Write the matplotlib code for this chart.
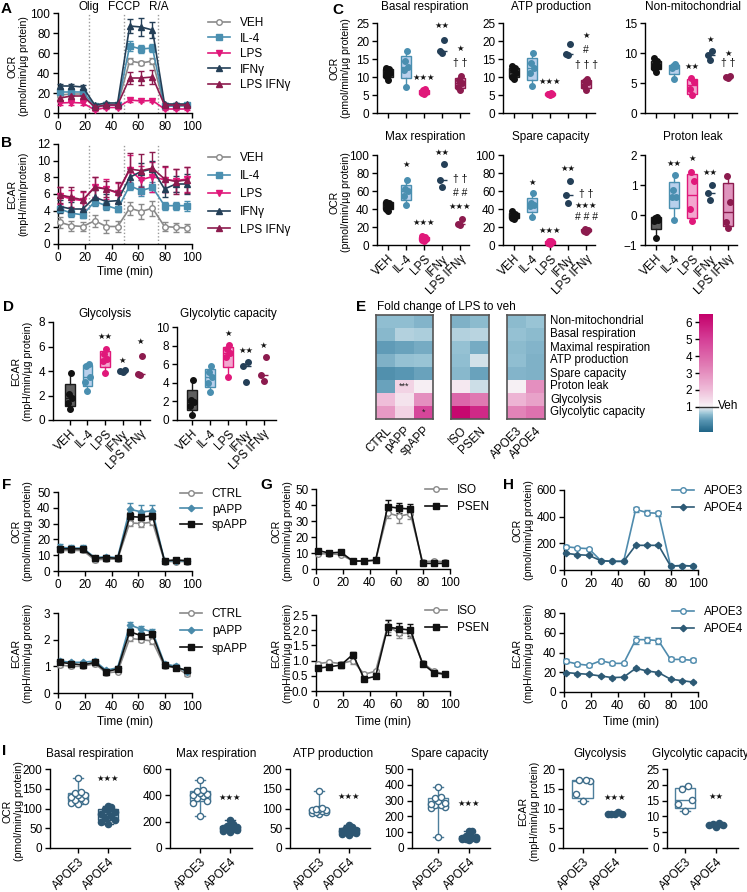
"""Seahorse metabolic profiling figure (panels A-I)."""

import matplotlib
matplotlib.use("Agg")
import matplotlib.pyplot as plt  # noqa: E402
import numpy as np  # noqa: E402
from matplotlib.colors import LinearSegmentedColormap, Normalize  # noqa: E402
from matplotlib.lines import Line2D  # noqa: E402

plt.rcParams["font.family"] = ["Liberation Sans", "DejaVu Sans"]
plt.rcParams["font.size"] = 8.5
plt.rcParams["axes.linewidth"] = 1.0

W, H = 747, 892

# ---------------------------------------------------------------- data
TIME = [1.5, 10, 18.5, 27.5, 36, 44.5, 53.5, 62, 70.5, 79.5, 88, 96.5]
INJECTIONS = [23, 49, 75]
INJECTION_LABELS = ["Olig", "FCCP", "R/A"]

TREATMENTS = ["VEH", "IL-4", "LPS", "IFNγ", "LPS IFNγ"]

# A: OCR time course (VEH, IL-4, LPS, IFNγ, LPS IFNγ)
A_OCR = [
    [18, 19, 19, 5, 8, 8, 52, 50, 52, 7, 7, 7],
    [21, 21, 21, 7, 8, 8, 67, 64, 65, 7, 7, 8],
    [10, 10.5, 10, 3, 5.5, 5.5, 13, 12, 12.5, 4, 4, 4],
    [27, 27, 26, 8, 10, 10, 87, 86, 83, 9, 9, 9],
    [15, 17, 17, 6, 8, 8, 35, 35, 36, 8, 8, 8],
]
A_ERR = [
    [2, 2, 2, 1, 1, 1, 3, 2, 3, 1, 1, 1],
    [2, 2, 2, 1, 1, 1, 5, 4, 4, 1, 1, 1],
    [2, 2, 2, 1, 1, 1, 1.5, 1, 1, 1, 1, 1],
    [2, 2, 2, 1.5, 1.5, 1.5, 7, 9, 8, 1.5, 1.5, 1.5],
    [3, 3, 3, 2, 2, 2, 6, 7, 7, 2, 2, 2],
]
# B: ECAR time course
B_ECAR = [
    [2.6, 2.2, 2.1, 2.8, 2.1, 2.1, 4.3, 3.9, 4.3, 2.1, 2.0, 1.9],
    [4.2, 3.7, 3.5, 5.1, 4.6, 4.2, 7.0, 6.4, 6.8, 4.6, 4.6, 4.6],
    [5.8, 5.4, 5.2, 6.9, 6.6, 6.1, 8.9, 7.7, 8.1, 7.7, 7.6, 7.8],
    [4.5, 4.2, 4.2, 5.6, 5.1, 5.2, 8.0, 8.7, 9.0, 6.6, 7.2, 7.2],
    [5.9, 5.6, 5.3, 6.8, 6.6, 6.2, 9.0, 8.8, 9.1, 7.8, 7.5, 7.7],
]
B_ERR = [
    [0.7, 0.6, 0.5, 0.7, 0.8, 0.7, 0.8, 0.9, 0.9, 0.5, 0.5, 0.5],
    [0.4, 0.4, 0.4, 0.5, 0.5, 0.4, 0.5, 0.6, 0.6, 0.5, 0.5, 0.6],
    [1.0, 1.1, 1.0, 1.2, 1.2, 1.2, 1.8, 1.7, 1.8, 1.5, 1.4, 1.5],
    [0.8, 0.8, 0.8, 0.9, 0.9, 0.9, 1.0, 1.0, 1.0, 1.0, 1.0, 1.2],
    [1.0, 1.2, 1.1, 1.3, 1.0, 1.3, 1.9, 2.0, 2.0, 1.6, 1.5, 1.6],
]

# C: per-well OCR parameters
C_BASAL = [[9.3, 10.2, 11.0, 11.5, 12.1, 12.5], [7.2, 12.0, 12.8, 14.4, 17.1],
           [5.2, 5.6, 5.9, 6.3, 6.6], [16.8, 17.1, 20.4], [6.5, 7.2, 8.3, 9.3, 10.4]]
C_ATP = [[9.5, 10.0, 11.0, 12.0, 12.5, 13.0], [7.4, 11.0, 12.5, 14.0, 16.6],
         [5.0, 5.2, 5.3, 5.4, 5.5], [16.0, 16.3, 19.2], [6.5, 7.5, 8.5, 9.0, 9.5]]
C_NONMITO = [[6.8, 7.5, 7.9, 8.2, 8.6, 9.1], [5.6, 7.5, 7.8, 7.9, 8.2],
             [3.0, 4.0, 5.2, 5.8], [8.8, 9.6, 10.4], [5.9, 6.0, 6.1]]
C_MAX = [[38, 40, 43, 45, 47, 48], [44, 55, 60, 62, 72],
         [4, 6, 7, 8, 9, 10], [64, 72, 90], [22, 23, 29]]
C_SPARE = [[29, 30, 32, 33, 35, 38], [31, 43, 45, 47, 58],
           [1, 2, 3, 4, 5], [47, 56, 71], [15, 16, 17, 18]]
C_PROTON = [[-0.75, -0.2, -0.15, -0.1, -0.05], [-0.15, 0.6, 0.6, 0.85, 1.35],
            [-0.2, 0.2, 1.15, 1.42], [0.5, 0.72, 1.0], [-0.42, -0.22, 0.42, 1.3]]

# D: per-well ECAR parameters
D_GLYCO = [[0.9, 1.4, 1.8, 2.1, 3.8], [2.4, 3.1, 3.5, 4.4, 4.6],
           [3.8, 4.8, 5.0, 5.4, 5.8], [3.95, 4.0, 4.1], [3.65, 3.75, 5.2]]
D_GLYCAP = [[0.55, 1.5, 1.9, 2.2, 4.3], [3.05, 4.0, 4.6, 5.2, 5.8],
            [4.6, 6.8, 7.2, 7.6, 8.1], [4.1, 5.8, 6.2], [4.2, 4.8, 6.8]]

# significance marks: (group index, y, text)
STAR = "★"
C_BASAL_SIG = [(2, 10.0, STAR * 3), (3, 24.3, STAR * 2), (4, 17.8, STAR), (4, 14.0, "† †")]
C_ATP_SIG = [(2, 8.8, STAR * 3), (4, 21.5, STAR), (4, 17.4, "#"), (4, 13.4, "† † †")]
C_NONMITO_SIG = [(2, 7.7, STAR * 2), (3, 12.3, STAR), (4, 10.0, STAR), (4, 8.3, "† †")]
C_MAX_SIG = [(1, 90, STAR), (2, 25, STAR * 3), (3, 103, STAR * 2),
             (4, 73, "† †"), (4, 58, "# #"), (4, 42.6, STAR * 3)]
C_SPARE_SIG = [(1, 70, STAR), (2, 16, STAR * 3), (3, 85, STAR * 2),
               (4, 57, "† †"), (4, 44, STAR * 3), (4, 31, "# # #")]
C_PROTON_SIG = [(1, 1.72, STAR * 2), (2, 1.9, STAR), (3, 1.42, STAR * 2)]
D_GLYCO_SIG = [(2, 6.8, STAR * 2), (3, 4.9, STAR), (4, 6.4, STAR)]
D_GLYCAP_SIG = [(2, 9.3, STAR), (3, 7.5, STAR * 2), (4, 8.0, STAR)]

# E: fold change LPS / veh
E_ROWS = ["Non-mitochondrial", "Basal respiration", "Maximal respiration", "ATP production",
          "Spare capacity", "Proton leak", "Glycolysis", "Glycolytic capacity"]
E_COLS = ["CTRL", "pAPP", "spAPP", "ISO", "PSEN", "APOE3", "APOE4"]
E_FOLD = [
    [0.55, 0.55, 0.48, 0.45, 0.52, 0.52, 0.62],
    [0.50, 0.72, 0.70, 0.72, 0.74, 0.58, 0.52],
    [0.25, 0.30, 0.38, 0.58, 0.40, 0.52, 0.48],
    [0.45, 0.58, 0.62, 0.56, 0.85, 0.55, 0.43],
    [0.12, 0.20, 0.30, 0.50, 0.32, 0.48, 0.45],
    [0.30, 1.60, 1.10, 1.20, 0.82, 1.05, 3.00],
    [2.00, 1.30, 3.00, 4.00, 3.50, 2.20, 2.60],
    [2.80, 1.60, 4.80, 6.30, 5.50, 3.30, 3.70],
]
E_SIG = [(5, 1, "***"), (7, 2, "*")]

# F: APP lines
F_NAMES = ["CTRL", "pAPP", "spAPP"]
F_OCR = [
    [13, 13, 13, 7, 7.5, 7.5, 30.5, 30, 31, 6, 6, 6],
    [15, 14.5, 14.5, 8.5, 9, 8.5, 39, 37.5, 38, 6.5, 6.5, 6.5],
    [14, 14, 14, 8, 8.5, 8, 34.5, 34, 35, 6.5, 7, 6.5],
]
F_OCR_ERR = [
    [1, 1, 1, 1, 1, 1, 2, 2, 2, 1, 1, 1],
    [2, 2, 2, 1, 1, 1, 4, 4, 4, 1, 1, 1],
    [1.5, 1.5, 1.5, 1, 1, 1, 3, 3, 3, 1, 1, 1],
]
F_ECAR = [
    [1.05, 1.0, 1.0, 1.1, 0.75, 0.8, 2.05, 2.0, 1.95, 1.0, 0.95, 0.7],
    [1.2, 1.15, 1.15, 1.2, 0.85, 0.95, 2.55, 2.4, 2.3, 1.1, 1.0, 0.8],
    [1.15, 1.1, 1.05, 1.15, 0.8, 0.9, 2.3, 2.15, 2.2, 1.05, 0.95, 0.85],
]
F_ECAR_ERR = [
    [0.06, 0.06, 0.06, 0.08, 0.06, 0.06, 0.1, 0.1, 0.1, 0.06, 0.08, 0.06],
    [0.06, 0.06, 0.06, 0.08, 0.06, 0.06, 0.1, 0.1, 0.1, 0.06, 0.08, 0.06],
    [0.06, 0.06, 0.06, 0.08, 0.06, 0.06, 0.1, 0.1, 0.1, 0.06, 0.08, 0.06],
]

# G: PSEN lines
G_NAMES = ["ISO", "PSEN"]
G_OCR = [
    [9.5, 9.5, 9, 5, 5, 5.5, 35, 33, 34.5, 4.5, 5, 4.5],
    [11.5, 10, 10.5, 5, 5, 5.5, 39, 38, 37.5, 3.5, 3.5, 3.5],
]
G_OCR_ERR = [
    [1, 1, 1, 0.5, 0.5, 0.5, 3, 4, 3, 0.5, 0.5, 0.5],
    [1, 1, 1, 0.5, 0.5, 0.5, 4, 3, 3, 0.5, 0.5, 0.5],
]
G_ECAR = [
    [0.9, 0.95, 0.9, 1.0, 0.55, 0.65, 2.15, 1.9, 1.9, 0.93, 0.65, 0.55],
    [0.75, 0.8, 0.85, 1.2, 0.4, 0.48, 2.1, 2.05, 2.0, 0.9, 0.6, 0.55],
]
G_ECAR_ERR = [
    [0.05, 0.05, 0.05, 0.1, 0.05, 0.05, 0.2, 0.15, 0.15, 0.05, 0.05, 0.05],
    [0.06, 0.05, 0.08, 0.08, 0.05, 0.05, 0.25, 0.2, 0.2, 0.05, 0.05, 0.05],
]

# H: APOE lines
H_NAMES = ["APOE3", "APOE4"]
H_OCR = [
    [175, 165, 160, 70, 65, 65, 455, 430, 425, 30, 33, 30],
    [125, 115, 110, 70, 65, 65, 185, 185, 185, 30, 33, 30],
]
H_OCR_ERR = [
    [10, 8, 8, 5, 5, 5, 20, 18, 18, 4, 4, 4],
    [8, 8, 8, 5, 5, 5, 8, 8, 8, 4, 4, 4],
]
H_ECAR = [
    [31, 28.3, 27, 31.7, 29, 29, 53, 53, 52, 33, 33, 32],
    [19.7, 18.7, 17.9, 16.2, 14.6, 15.0, 24.0, 21.3, 19.7, 13.0, 11.5, 10.0],
]
H_ECAR_ERR = [
    [2, 1.5, 1.5, 2, 1.5, 1.5, 4, 3, 3, 2, 2, 2],
    [1, 1, 1, 1, 1, 1, 1.5, 1, 1, 1, 1, 1],
]

# I: APOE per-well parameters
I_TITLES = ["Basal respiration", "Max respiration", "ATP production",
            "Spare capacity", "Glycolysis", "Glycolytic capacity"]
I_BASAL = [[112, 115, 118, 122, 126, 130, 133, 135, 138, 143, 177],
           [60, 65, 70, 75, 80, 85, 90, 95, 100, 103, 106]]
I_MAX = [[245, 340, 360, 380, 395, 405, 410, 420, 430, 440, 520],
         [120, 130, 140, 145, 150, 155, 160, 165, 170, 180, 215]]
I_ATP = [[85, 88, 90, 92, 94, 95, 97, 98, 100, 102, 145],
         [32, 35, 38, 40, 42, 44, 46, 48, 50, 53, 57]]
I_SPARE = [[67, 255, 262, 270, 275, 280, 285, 295, 315, 322, 385],
           [50, 55, 58, 60, 62, 65, 68, 70, 75, 105, 110]]
I_GLYCO = [[11.9, 13.6, 17.0, 17.1, 17.2], [8.5, 8.6, 8.6, 8.7, 9.0]]
I_GLYCAP = [[11.7, 13.8, 15.2, 18.7, 19.5], [6.6, 7.2, 7.4, 7.6, 7.8]]
I_SIG = [(1, 175, STAR * 3), (1, 380, STAR * 3), (1, 131, STAR * 3),
         (1, 283, STAR * 3), (1, 12.9, STAR * 3), (1, 16.4, STAR * 2)]

# ---------------------------------------------------------------- styles
GREY = "#8a8a8a"
TC_STYLE = [
    dict(color=GREY, marker="o", mfc="white", ms=4),
    dict(color="#4a8fb0", marker="s", mfc="#4a8fb0", ms=4),
    dict(color="#e0187a", marker="v", mfc="#e0187a", ms=4),
    dict(color="#243f57", marker="^", mfc="#243f57", ms=4),
    dict(color="#8c1b4e", marker="^", mfc="#8c1b4e", ms=4),
]
F_STYLE = [
    dict(color=GREY, marker="o", mfc="white", ms=4),
    dict(color="#4a8bab", marker="D", mfc="#4a8bab", ms=3.3),
    dict(color="#111111", marker="s", mfc="#111111", ms=3.8),
]
G_STYLE = [
    dict(color=GREY, marker="o", mfc="white", ms=4),
    dict(color="#111111", marker="s", mfc="#111111", ms=3.8),
]
H_STYLE = [
    dict(color="#4f8bad", marker="o", mfc="white", ms=4),
    dict(color="#2d5a75", marker="D", mfc="#2d5a75", ms=3.3),
]
BOX_STYLE = [
    dict(face="#5e5e5e", edge="#1a1a1a", dot="#111111", dot_edge="#111111"),
    dict(face="#b9d0ec", edge="#4a8fb0", dot="#4a8fb0", dot_edge="#4a8fb0"),
    dict(face="#f3a6cf", edge="#e0187a", dot="#e0187a", dot_edge="#e0187a"),
    dict(face="none", edge="#243f57", dot="#243f57", dot_edge="#243f57"),
    dict(face="#df94bd", edge="#8c1b4e", dot="#8c1b4e", dot_edge="#8c1b4e"),
]
APOE_BOX = [
    dict(face="white", edge="#4d7f9c", dot="white", dot_edge="#3e6d8a"),
    dict(face="#a9c6d8", edge="#2d5672", dot="#2d5672", dot_edge="#2d5672"),
]
JITTER = [0.0, -1.0, 1.0, -0.5, 0.5, -1.0, 1.0, 0.0, -0.5, 0.5, 0.0]

fig = plt.figure(figsize=(W / 100, H / 100), dpi=100)


def px_axes(x0, y0, x1, y1):
    return fig.add_axes([x0 / W, 1 - y1 / H, (x1 - x0) / W, (y1 - y0) / H])


def ftext(x, y, s, **kw):
    fig.text(x / W, 1 - y / H, s, **kw)


def clean(ax):
    ax.spines["top"].set_visible(False)
    ax.spines["right"].set_visible(False)
    ax.tick_params(length=3.5, width=1.0, pad=2, labelsize=8.5)


def ylabel(x, y, s):
    ftext(x, y, s, rotation=90, ha="center", va="center", multialignment="center",
          fontsize=7.6, linespacing=1.15)


def letter(x, y, s):
    ftext(x, y, s, fontsize=11, fontweight="bold", ha="left", va="top")


def time_panel(ax, series, errs, styles, ylim, yticks, lines=False):
    for y, e, st in zip(series, errs, styles):
        ax.errorbar(TIME, y, yerr=e, color=st["color"], marker=st["marker"], mfc=st["mfc"],
                    mec=st["color"], ms=st["ms"], lw=1.2, elinewidth=1, capsize=2, capthick=1,
                    clip_on=False, zorder=3)
    if lines:
        for t in INJECTIONS:
            ax.axvline(t, color="#9a9a9a", lw=1.0, ls=(0, (1, 1.5)), zorder=1)
    ax.set_xlim(0, 100)
    ax.set_xticks([0, 20, 40, 60, 80, 100])
    ax.set_ylim(*ylim)
    ax.set_yticks(yticks)
    clean(ax)


def legend(ax, names, styles, x, y, spacing):
    handles = [Line2D([], [], color=st["color"], marker=st["marker"], mfc=st["mfc"],
                      mec=st["color"], ms=st["ms"], lw=1.2) for st in styles]
    ax.legend(handles, names, loc="upper left", bbox_to_anchor=(x / W, 1 - y / H),
              bbox_transform=fig.transFigure, frameon=False, fontsize=8.5,
              handlelength=1.9, handletextpad=0.8, labelspacing=spacing, borderpad=0,
              borderaxespad=0)


def box_stats(vals):
    # Prism-style quartiles ((n+1)p positions)
    q1, med, q3 = np.percentile(vals, [25, 50, 75], method="weibull")
    return dict(med=med, q1=q1, q3=q3, whislo=vals.min(), whishi=vals.max(), fliers=[])


def box_panel(ax, data, styles, xlim, ylim, yticks, sig, labels, width=0.55,
              jit=0.13, dot_s=16, caps=False):
    for i, (vals, st) in enumerate(zip(data, styles)):
        vals = np.sort(np.asarray(vals, float))
        n = len(vals)
        ax.bxp([box_stats(vals)], positions=[i], widths=width, patch_artist=True,
               showfliers=False, showbox=n > 3, showcaps=caps, manage_ticks=False,
               boxprops=dict(facecolor=st["face"], edgecolor=st["edge"], linewidth=1),
               medianprops=dict(color=st["edge"], linewidth=1),
               whiskerprops=dict(color=st["edge"], linewidth=1),
               capprops=dict(color=st["edge"], linewidth=1), zorder=2)
        offs = np.array(JITTER[:n]) * jit
        ax.scatter(i + offs, vals, s=dot_s, color=st["dot"], edgecolors=st["dot_edge"],
                   linewidths=1, zorder=3, clip_on=False)
    for gi, y, s in sig:
        fam = ["DejaVu Sans"] if STAR in s else ["Liberation Sans", "DejaVu Sans"]
        fs = 6 if STAR in s else 7.5
        ax.text(gi, y, s, ha="center", va="center", fontsize=fs, family=fam, color="#111111")
    ax.set_xlim(*xlim)
    ax.set_ylim(*ylim)
    ax.set_yticks(yticks)
    ax.set_xticks(range(len(labels)))
    ax.set_xticklabels(labels, rotation=45, ha="right", rotation_mode="anchor")
    clean(ax)


# ---------------------------------------------------------------- A / B
ax = px_axes(58, 13, 192, 113)
time_panel(ax, A_OCR, A_ERR, TC_STYLE, (0, 100), range(0, 101, 20), lines=True)
for t, s in zip(INJECTIONS, INJECTION_LABELS):
    ax.text(t, 1.0, s, transform=ax.get_xaxis_transform(), ha="center", va="bottom",
            fontsize=8.5)
legend(ax, TREATMENTS, TC_STYLE, 208, 17, 0.3)
letter(1, 2, "A")
ylabel(18, 66, "OCR\n(pmol/min/µg protein)")

ax = px_axes(58, 144, 192, 244)
time_panel(ax, B_ECAR, B_ERR, TC_STYLE, (0, 12), range(0, 13, 2), lines=True)
legend(ax, TREATMENTS, TC_STYLE, 208, 152, 0.5)
letter(1, 136, "B")
ylabel(18, 194, "ECAR\n(mpH/min/protein)")
ftext(125, 272, "Time (min)", ha="center", va="center")

# ---------------------------------------------------------------- C
C_XLIM = (-0.62, 4.5)
NO_LABELS = [""] * 5
c_top = [(377, C_BASAL, (0, 25), range(0, 26, 5), C_BASAL_SIG, "Basal respiration"),
         (503, C_ATP, (0, 25), range(0, 26, 5), C_ATP_SIG, "ATP production"),
         (645, C_NONMITO, (0, 15), range(0, 16, 5), C_NONMITO_SIG, "Non-mitochondrial")]
for x0, data, ylim, yt, sig, title in c_top:
    ax = px_axes(x0, 23, x0 + 92, 113)
    box_panel(ax, data, BOX_STYLE, C_XLIM, ylim, yt, sig, NO_LABELS)
    ftext(x0 + 48, 7, title, ha="center", va="center")
c_bot = [(377, C_MAX, (0, 100), range(0, 101, 20), C_MAX_SIG, "Max respiration"),
         (503, C_SPARE, (0, 100), range(0, 101, 20), C_SPARE_SIG, "Spare capacity"),
         (645, C_PROTON, (-1, 2), range(-1, 3), C_PROTON_SIG, "Proton leak")]
for x0, data, ylim, yt, sig, title in c_bot:
    ax = px_axes(x0, 155, x0 + 92, 245)
    box_panel(ax, data, BOX_STYLE, C_XLIM, ylim, yt, sig, TREATMENTS)
    ftext(x0 + 48, 137, title, ha="center", va="center")
letter(332, 3, "C")
ylabel(340, 68, "OCR\n(pmol/min/µg protein)")
ylabel(340, 202, "OCR\n(pmol/min/µg protein)")

# ---------------------------------------------------------------- D
ax = px_axes(53, 322, 150, 420)
box_panel(ax, D_GLYCO, BOX_STYLE, (-0.97, 4.57), (0, 8), range(0, 9, 2), D_GLYCO_SIG, TREATMENTS)
ftext(105, 314, "Glycolysis", ha="center", va="center")
ax = px_axes(177, 327, 276, 420)
box_panel(ax, D_GLYCAP, BOX_STYLE, (-0.85, 4.7), (0, 10), range(0, 11, 2), D_GLYCAP_SIG,
          TREATMENTS)
ftext(228, 314, "Glycolytic capacity", ha="center", va="center")
letter(3, 300, "D")
ylabel(22, 371, "ECAR\n(mpH/min/µg protein)")

# ---------------------------------------------------------------- E
cmap = LinearSegmentedColormap.from_list(
    "fold",
    [(0.0, "#1f6486"), (0.7 / 7.0, "#5a97b4"), (1.1 / 7.0, "#9ac5d6"),
     (1.5 / 7.0, "#f7f3f6"), (2.5 / 7.0, "#efbdd9"), (4.0 / 7.0, "#e07ab3"),
     (5.5 / 7.0, "#d53f97"), (1.0, "#c4006a")])
norm = Normalize(vmin=-0.5, vmax=6.5)
fold = np.array(E_FOLD)
blocks = [(376, 433, 0, 3), (451, 489, 3, 5), (507, 545, 5, 7)]
for x0, x1, c0, c1 in blocks:
    ax = px_axes(x0, 315, x1, 419)
    im = ax.imshow(fold[:, c0:c1], cmap=cmap, norm=norm, aspect="auto", interpolation="nearest")
    ax.set_yticks([])
    ax.set_xticks(range(c1 - c0))
    ax.set_xticklabels(E_COLS[c0:c1], rotation=45, ha="right", rotation_mode="anchor",
                       fontsize=8.5)
    ax.tick_params(axis="x", length=0, pad=4)
    for s in ax.spines.values():
        s.set_color("#555555")
        s.set_linewidth(1.2)
    for r, c, s in E_SIG:
        if c0 <= c < c1:
            ax.text(c - c0, r, s, ha="center", va="center", fontsize=6.5, color="#222222")
for i, name in enumerate(E_ROWS):
    ftext(550, 315 + 13 * (i + 0.5), name, ha="left", va="center", fontsize=8.3)
cax = px_axes(699, 314, 713, 432)
cb = fig.colorbar(im, cax=cax, ticks=[1, 2, 3, 4, 5, 6])
cb.outline.set_visible(False)
cax.yaxis.set_ticks_position("left")
cax.yaxis.set_label_position("left")
cax.tick_params(length=3, width=1, labelsize=8.5, pad=2)
cax.axhline(1, color="#333333", lw=1)
cax.plot([1.0, 1.35], [1, 1], color="#333333", lw=1, clip_on=False,
         transform=cax.get_yaxis_transform())
ftext(718, 406, "Veh", ha="left", va="center", fontsize=8.5)
letter(356, 300, "E")
ftext(377, 307, "Fold change of LPS to veh", ha="left", va="center", fontsize=8.5)

# ---------------------------------------------------------------- F / G / H
ax = px_axes(58, 492, 192, 571)
time_panel(ax, F_OCR, F_OCR_ERR, F_STYLE, (0, 50), range(0, 51, 10))
legend(ax, F_NAMES, F_STYLE, 180, 488, 0.3)
ax = px_axes(58, 613, 192, 693)
time_panel(ax, F_ECAR, F_ECAR_ERR, F_STYLE, (0, 3), range(0, 4))
legend(ax, F_NAMES, F_STYLE, 180, 608, 0.45)
letter(2, 478, "F")
ylabel(22, 531, "OCR\n(pmol/min/µg protein)")
ylabel(22, 653, "ECAR\n(mpH/min/µg protein)")
ftext(125, 722, "Time (min)", ha="center", va="center")

ax = px_axes(316, 489, 450, 569)
time_panel(ax, G_OCR, G_OCR_ERR, G_STYLE, (0, 50), range(0, 51, 10))
legend(ax, G_NAMES, G_STYLE, 425, 484, 0.4)
ax = px_axes(316, 615, 450, 691)
time_panel(ax, G_ECAR, G_ECAR_ERR, G_STYLE, (0, 2.5), np.arange(0, 2.6, 0.5))
ax.yaxis.set_major_formatter(plt.FormatStrFormatter("%.1f"))
legend(ax, G_NAMES, G_STYLE, 425, 605, 0.4)
letter(260, 478, "G")
ylabel(282, 531, "OCR\n(pmol/min/µg protein)")
ylabel(282, 653, "ECAR\n(mpH/min/µg protein)")
ftext(383, 722, "Time (min)", ha="center", va="center")

ax = px_axes(564, 490, 698, 570)
time_panel(ax, H_OCR, H_OCR_ERR, H_STYLE, (0, 600), range(0, 601, 200))
legend(ax, H_NAMES, H_STYLE, 672, 485, 0.4)
ax = px_axes(564, 613, 698, 692)
time_panel(ax, H_ECAR, H_ECAR_ERR, H_STYLE, (0, 80), range(0, 81, 20))
legend(ax, H_NAMES, H_STYLE, 672, 606, 0.4)
letter(503, 478, "H")
ylabel(523, 530, "OCR\n(pmol/min/µg protein)")
ylabel(523, 653, "ECAR\n(mpH/min/µg protein)")
ftext(631, 722, "Time (min)", ha="center", va="center")

# ---------------------------------------------------------------- I
i_panels = [
    (50, 130, (-0.93, 1.73), I_BASAL, (0, 200), range(0, 201, 50)),
    (170, 252, (-1.0, 1.73), I_MAX, (0, 600), range(0, 601, 200)),
    (290, 370, (-0.97, 1.7), I_ATP, (0, 200), range(0, 201, 50)),
    (412, 490, (-0.84, 1.68), I_SPARE, (0, 500), range(0, 501, 100)),
    (563, 647, (-0.62, 2.0), I_GLYCO, (0, 20), range(0, 21, 5)),
    (667, 738, (-0.58, 1.71), I_GLYCAP, (0, 25), range(0, 26, 5)),
]
I_TITLE_X = [90, 216, 333, 450, 600, 700]
for (x0, x1, xlim, data, ylim, yt), title, sig, tx in zip(i_panels, I_TITLES, I_SIG, I_TITLE_X):
    ax = px_axes(x0, 769, x1, 848)
    box_panel(ax, data, APOE_BOX, xlim, ylim, yt, [sig], H_NAMES, width=0.65, jit=0.22,
              dot_s=20, caps=True)
    ftext(tx, 754, title, ha="center", va="center")
letter(2, 744, "I")
ylabel(13, 811, "OCR\n(pmol/min/µg protein)")
ylabel(529, 811, "ECAR\n(mpH/min/µg protein)")

fig.savefig("out.png", dpi=100)
